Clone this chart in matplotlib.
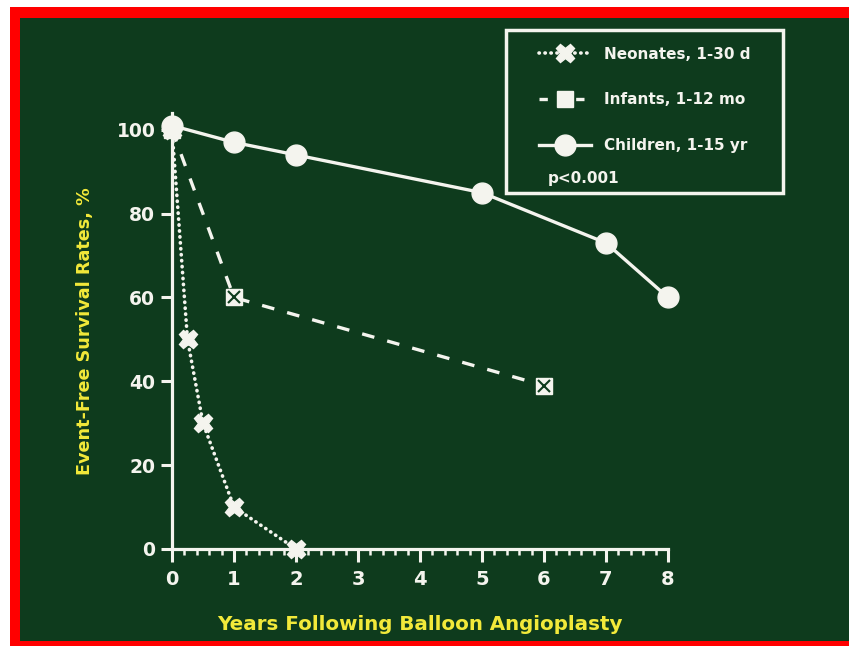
import matplotlib
matplotlib.use("Agg")
import matplotlib.pyplot as plt
from matplotlib.lines import Line2D
from matplotlib.patches import Rectangle
from matplotlib.ticker import MultipleLocator

# ---- data ----
neo_x = [0, 0.25, 0.5, 1, 2]
neo_y = [100, 50, 30, 10, 0]
inf_x = [0, 1, 6]
inf_y = [100, 60, 39]
chi_x = [0, 1, 2, 5, 7, 8]
chi_y = [101, 97, 94, 85, 73, 60]
x_ticks = [0, 1, 2, 3, 4, 5, 6, 7, 8]
y_ticks = [0, 20, 40, 60, 80, 100]
labels = ["Neonates, 1-30 d", "Infants, 1-12 mo", "Children, 1-15 yr"]

GREEN = "#0e3b1d"
YELLOW = "#f2e93a"
WHITE = "#f4f4ee"
FONT = "DejaVu Sans"

W, H = 849, 646
fig = plt.figure(figsize=(W / 100, H / 100), dpi=100)
fig.patch.set_facecolor("white")
# red frame and green panel
fig.patches.append(Rectangle((10 / W, 0), 1, 1 - 7 / H, transform=fig.transFigure,
                             facecolor="#ff0000", edgecolor="none", zorder=-10))
fig.patches.append(Rectangle((20 / W, 5 / H), 1, 1 - 18 / H - 5 / H, transform=fig.transFigure,
                             facecolor=GREEN, edgecolor="none", zorder=-9))

ax = fig.add_axes([172 / W, 97 / H, 496 / W, 436 / H])
ax.set_zorder(2)
ax.set_facecolor("none")
ax.set_xlim(0, 8)
ax.set_ylim(0, 104)

for s in ["top", "right"]:
    ax.spines[s].set_visible(False)
for s in ["left", "bottom"]:
    ax.spines[s].set_color(WHITE)
    ax.spines[s].set_linewidth(2.3)

ax.set_xticks(x_ticks)
ax.set_yticks(y_ticks)
ax.xaxis.set_minor_locator(MultipleLocator(0.2))
ax.tick_params(axis="x", which="major", direction="out", length=9, width=2.2, color=WHITE,
               labelcolor=WHITE, labelsize=14, pad=6)
ax.tick_params(axis="x", which="minor", direction="out", length=4, width=1.8, color=WHITE)
ax.tick_params(axis="y", which="major", direction="out", length=8, width=2.2, color=WHITE,
               labelcolor=WHITE, labelsize=13.5, pad=4)
for lab in ax.get_xticklabels() + ax.get_yticklabels():
    lab.set_fontfamily(FONT)
    lab.set_fontweight("bold")

# Children
ax.plot(chi_x, chi_y, color=WHITE, lw=2.4, marker="o", ms=15, mfc=WHITE, mec=WHITE,
        clip_on=False, zorder=5)
# Infants
ax.plot(inf_x, inf_y, color=WHITE, lw=2.4, ls=(0, (3.8, 4.0)), marker="s", ms=12, mfc=WHITE,
        mec=WHITE, clip_on=False, zorder=4)
ax.plot(inf_x[1:], inf_y[1:], ls="none", marker="x", ms=8, mew=1.5, mec=GREEN,
        clip_on=False, zorder=6)
# Neonates
ax.plot(neo_x, neo_y, color=WHITE, lw=2.6, ls=(0, (0.1, 1.55)), marker="X", ms=13, mfc=WHITE,
        mec=WHITE, clip_on=False, zorder=4, dash_capstyle="round")

ax.set_xlabel("Years Following Balloon Angioplasty", color=YELLOW, fontsize=14.3,
              fontweight="bold", fontfamily=FONT, labelpad=19)
ax.set_ylabel("Event-Free Survival Rates, %", color=YELLOW, fontsize=12.7,
              fontweight="bold", fontfamily=FONT, labelpad=16)

# legend box
fig.patches.append(Rectangle((506 / W, 1 - 193 / H), 277 / W, 163 / H, transform=fig.transFigure,
                             facecolor="none", edgecolor=WHITE, lw=2.5, zorder=3))
handles = [
    Line2D([], [], color=WHITE, lw=2.6, ls=(0, (0.1, 1.55)), marker="X", ms=13, mfc=WHITE,
           mec=WHITE, dash_capstyle="round"),
    Line2D([], [], color=WHITE, lw=2.4, ls=(0, (2.5, 3)), marker="s", ms=12, mfc=WHITE, mec=WHITE),
    Line2D([], [], color=WHITE, lw=2.4, marker="o", ms=15, mfc=WHITE, mec=WHITE),
]
leg = fig.legend(handles, labels, loc="upper left", bbox_to_anchor=(525 / W, 1 - 33 / H),
                 frameon=False, handlelength=3.4, handletextpad=0.9, labelspacing=2.0,
                 prop={"family": FONT, "weight": "bold", "size": 11})
for t in leg.get_texts():
    t.set_color(WHITE)
fig.text(548 / W, 1 - 178 / H, "p<0.001", color=WHITE, fontsize=11, fontweight="bold",
         fontfamily=FONT, va="center", ha="left")

fig.savefig("out.png", dpi=100, facecolor=fig.get_facecolor())
